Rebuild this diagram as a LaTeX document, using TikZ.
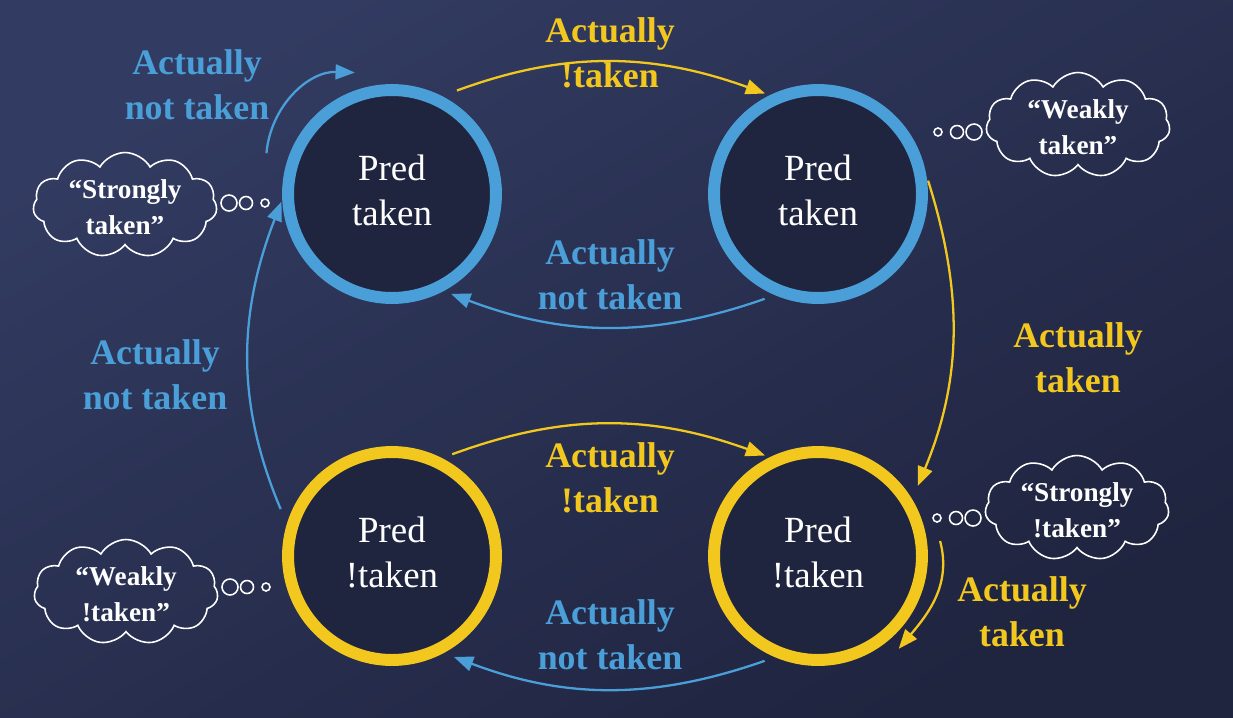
\documentclass[tikz,border=0pt]{standalone}
\usepackage{fontspec}
\setmainfont{Liberation Serif}
\usetikzlibrary{arrows.meta,shapes.symbols}
\definecolor{bgTop}{HTML}{323B61}
\definecolor{bgBottom}{HTML}{1F243F}
\definecolor{stateFill}{HTML}{20253F}
\definecolor{predBlue}{HTML}{4A9FD9}
\definecolor{predGold}{HTML}{F3C81E}
\tikzset{
  predstate/.style={circle, minimum size=4.16cm, line width=6.8pt,
    fill=stateFill, text=white, align=center, inner sep=0pt,
    font=\fontsize{21}{25.5}\selectfont},
  link/.style={line width=1.3pt, -{Triangle[length=11pt,width=8.5pt]}},
  lbl/.style={align=center, font=\bfseries\fontsize{20.4}{25.5}\selectfont},
  thought/.style={cloud, cloud puffs=11, cloud puff arc=120,
    cloud ignores aspect, draw=white, line width=0.9pt,
    minimum width=3.68cm, minimum height=2.1cm, inner sep=0pt},
  thought text/.style={text=white, align=center,
    font=\bfseries\fontsize{15.5}{20.4}\selectfont},
  bubble/.style={draw=white, line width=0.9pt}
}
\newcommand{\thoughtcloud}[5]{%
  \begin{scope}[shift={#2}]
    \node[thought] (#1) at (0,0) {};
    \node[thought text] (#1-text) at (0,-2) {#3};
    \draw[bubble] (#4*104,#5) circle (8);
    \draw[bubble] (#4*121,#5) circle (6.5);
    \draw[bubble] (#4*140,#5) circle (4);
  \end{scope}%
}

\begin{document}
\begin{tikzpicture}[x=0.02cm, y=0.02cm]
\useasboundingbox (0,0) rectangle (1233,-717);
\shade[top color=bgTop, bottom color=bgBottom, shading angle=30]
  (0,0) rectangle (1233,-717);

% The four predictor states
\node[predstate, draw=predBlue] (tl) at (392,-194) {Pred\\taken\\[-21pt]};
\node[predstate, draw=predBlue] (tr) at (818,-194) {Pred\\taken\\[-21pt]};
\node[predstate, draw=predGold] (bl) at (392,-556) {Pred\\!taken\\[-21pt]};
\node[predstate, draw=predGold] (br) at (818,-556) {Pred\\!taken\\[-21pt]};

% Transitions between the states
\draw[link, predGold, shorten <=0.32cm, shorten >=0.1cm]
  (tl.63) to[bend left=20] (tr.116);
\draw[link, predBlue, shorten <=0.22cm, shorten >=0.16cm]
  (tr.247) to[bend left=20] (tl.298);
\draw[link, predGold, shorten <=0.12cm, shorten >=0.29cm]
  (tr.10) to[bend left=20] (br.31);
\draw[link, predGold, shorten <=0.22cm, shorten >=0.1cm]
  (bl.63) to[bend left=20] (br.116);
\draw[link, predBlue, shorten <=0.22cm, shorten >=0.22cm]
  (br.247) to[bend left=20] (bl.298);
\draw[link, predBlue, shorten <=0.32cm, shorten >=0.04cm]
  (bl.163) to[bend left=22] (tl.183);
\draw[link, predBlue]
  ([shift={(162:132)}]tl.center) to[out=85, in=178] ([shift={(107:127)}]tl.center);
\draw[link, predGold]
  ([shift={(7:123)}]br.center) to[out=-75, in=50] ([shift={(-49:123)}]br.center);

% Transition labels
\node[lbl, text=predGold] (lab-tl-tr) at (610,-53) {Actually\\!taken};
\node[lbl, text=predBlue] (lab-tr-tl) at (610,-275) {Actually\\not taken};
\node[lbl, text=predGold] (lab-tr-br) at (1078,-358) {Actually\\taken};
\node[lbl, text=predGold] (lab-bl-br) at (610,-478) {Actually\\!taken};
\node[lbl, text=predBlue] (lab-br-bl) at (610,-635) {Actually\\not taken};
\node[lbl, text=predBlue] (lab-bl-tl) at (155,-375) {Actually\\not taken};
\node[lbl, text=predBlue] (lab-tl-tl) at (197,-85) {Actually\\not taken};
\node[lbl, text=predGold] (lab-br-br) at (1022,-612) {Actually\\taken};

% Thought clouds naming the states
\thoughtcloud{cloud-tl}{(125,-205)}{“Strongly\\taken”}{1}{2}
\thoughtcloud{cloud-tr}{(1078,-125)}{“Weakly\\taken”}{-1}{-7}
\thoughtcloud{cloud-bl}{(126,-592)}{“Weakly\\!taken”}{1}{5}
\thoughtcloud{cloud-br}{(1077,-508)}{“Strongly\\!taken”}{-1}{-10}

\end{tikzpicture}
\end{document}
